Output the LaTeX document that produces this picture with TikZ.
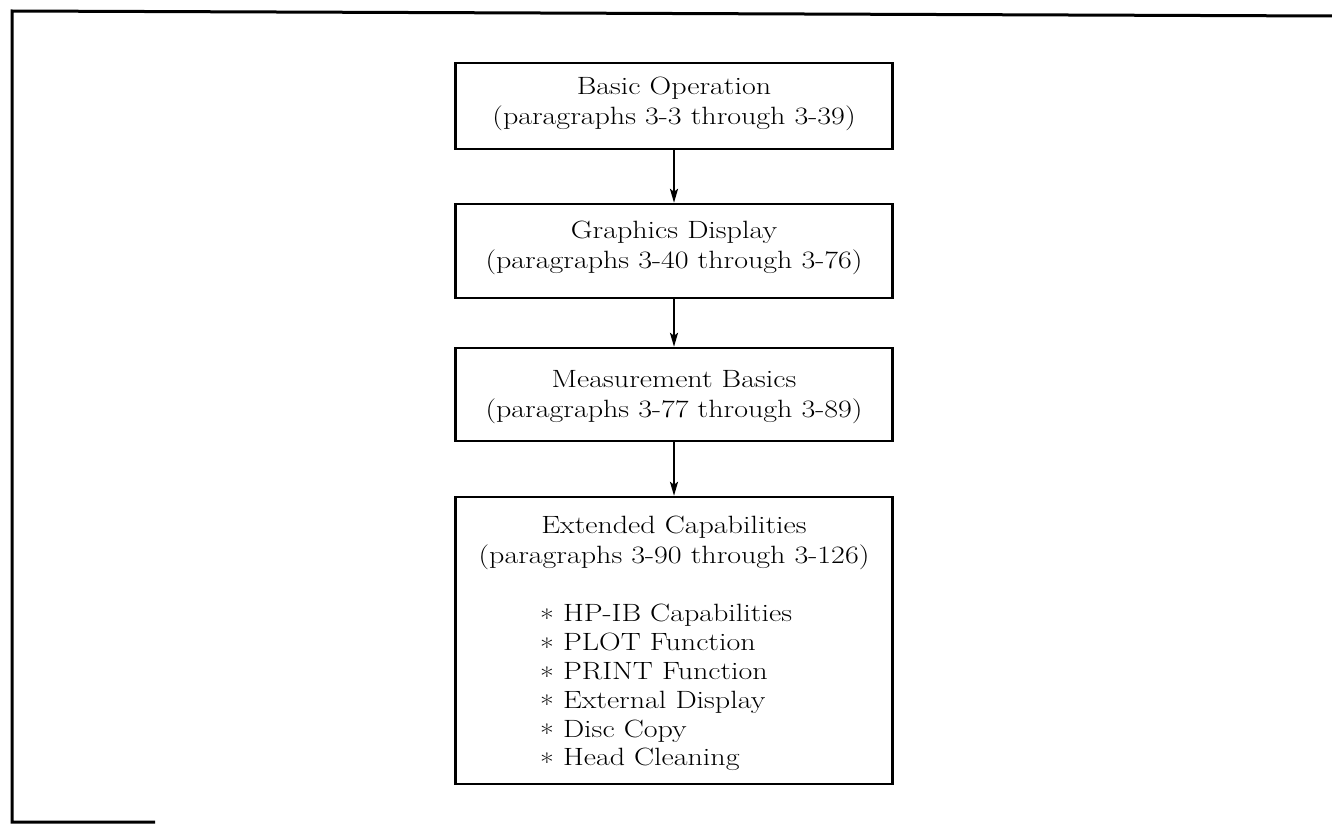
\documentclass[tikz,border=0pt]{standalone}
\usepackage{fontspec}
\setmainfont{Latin Modern Roman}[FakeStretch=1.2]
\usetikzlibrary{arrows.meta}
\newcommand{\bulletstar}{\raisebox{-0.22em}{*}}
\begin{document}
\begin{tikzpicture}[x=1pt,y=-1pt,
  box/.style={draw, line width=2.4pt, minimum width=437pt, inner sep=0pt},
  txt/.style={font=\fontsize{25}{30}\selectfont, align=center, inner sep=0pt},
  lst/.style={font=\fontsize{25}{28.8}\selectfont, align=left, inner sep=0pt, anchor=west},
  arr/.style={line width=2.2pt, -{Stealth[length=14pt,width=8pt,inset=3pt]}},
  frame/.style={line width=3pt}]
\useasboundingbox (0,0) rectangle (1332,824);
% outer frame (partial, as scanned)
\draw[frame] (1332,16) -- (12,11) -- (12,822) -- (155,822);
% boxes
\node[box, minimum height=86pt] (b1) at (674,106) {};
\node[box, minimum height=94pt] (b2) at (674,251) {};
\node[box, minimum height=93pt] (b3) at (674,394.5) {};
\node[box, minimum height=287pt] (b4) at (674,640.5) {};
% texts
\node[txt] (t1) at (674,104) {Basic Operation\\(paragraphs 3-3 through 3-39)};
\node[txt] (t2) at (674,248) {Graphics Display\\(paragraphs 3-40 through 3-76)};
\node[txt] (t3) at (674,397) {Measurement Basics\\(paragraphs 3-77 through 3-89)};
\node[txt] (t4) at (674,543) {Extended Capabilities\\(paragraphs 3-90 through 3-126)};
\node[lst] (t5) at (540,688) {\bulletstar{} HP-IB Capabilities\\\bulletstar{} PLOT Function\\\bulletstar{} PRINT Function\\\bulletstar{} External Display\\\bulletstar{} Disc Copy\\\bulletstar{} Head Cleaning};
% connectors
\draw[arr] (b1) -- (b2);
\draw[arr] (b2) -- (b3);
\draw[arr] (b3) -- (b4);
\end{tikzpicture}
\end{document}
